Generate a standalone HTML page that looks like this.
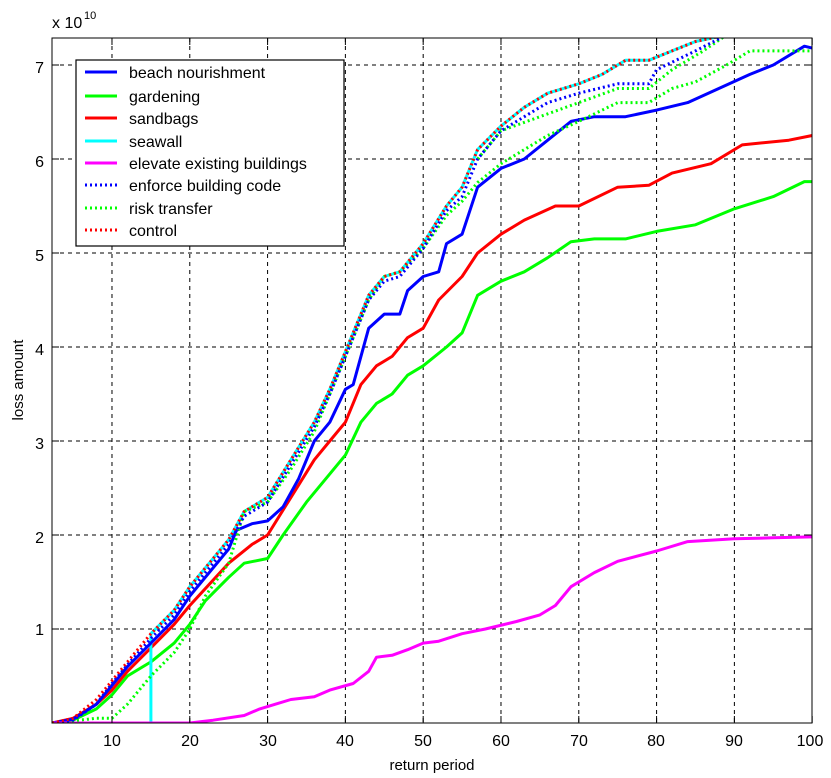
<!DOCTYPE html>
<html><head><meta charset="utf-8"><style>
body{margin:0;background:#fff}
svg{display:block;font-family:"Liberation Sans",sans-serif}
</style></head><body>
<svg id="s" width="831" height="778" viewBox="0 0 831 778">
<defs><clipPath id="c"><rect x="52" y="38" width="760" height="685"/></clipPath></defs>
<rect width="831" height="778" fill="#fff"/>
<g id="grid" stroke="#000" stroke-width="1" stroke-dasharray="4,4"></g>
<g id="series" clip-path="url(#c)" fill="none" stroke-linejoin="round"></g>
<rect x="52" y="38" width="760" height="685" fill="none" stroke="#000" stroke-width="1"/>
<g id="ticks" stroke="#000"></g>
<g font-size="16" fill="#000">
<text x="112" y="746" text-anchor="middle">10</text>
<text x="190" y="746" text-anchor="middle">20</text>
<text x="268" y="746" text-anchor="middle">30</text>
<text x="345" y="746" text-anchor="middle">40</text>
<text x="423" y="746" text-anchor="middle">50</text>
<text x="501" y="746" text-anchor="middle">60</text>
<text x="579" y="746" text-anchor="middle">70</text>
<text x="656" y="746" text-anchor="middle">80</text>
<text x="734" y="746" text-anchor="middle">90</text>
<text x="810" y="746" text-anchor="middle">100</text>
<text x="44" y="635" text-anchor="end">1</text>
<text x="44" y="543" text-anchor="end">2</text>
<text x="44" y="449" text-anchor="end">3</text>
<text x="44" y="355" text-anchor="end">4</text>
<text x="44" y="261" text-anchor="end">5</text>
<text x="44" y="167" text-anchor="end">6</text>
<text x="44" y="73" text-anchor="end">7</text>
<text x="52" y="28">x 10</text><text x="84" y="19" font-size="11">10</text>
<text x="432" y="770" text-anchor="middle" font-size="15">return period</text>
<text transform="translate(23,380) rotate(-90)" text-anchor="middle" font-size="15">loss amount</text>
</g>
<rect x="76" y="60" width="268" height="186" fill="#fff" stroke="#000" stroke-width="1.2"/>
<g id="leg" font-size="16" fill="#000"></g>
</svg>
<script>
var X=function(x){return 52+(x-2.29)*7.78},Y=function(y){return 723-y*94};
var NS="http://www.w3.org/2000/svg";
function el(p,t,a){var e=document.createElementNS(NS,t);for(var k in a)e.setAttribute(k,a[k]);document.getElementById(p).appendChild(e);return e}
for(var i=10;i<=90;i+=10){el("grid","line",{x1:X(i),x2:X(i),y1:38,y2:723});}
for(var j=1;j<=7;j++){el("grid","line",{x1:52,x2:812,y1:Y(j),y2:Y(j)});}
for(var i=10;i<=100;i+=10){el("ticks","line",{x1:X(i),x2:X(i),y1:723,y2:716});el("ticks","line",{x1:X(i),x2:X(i),y1:38,y2:45});}
for(var j=1;j<=7;j++){el("ticks","line",{x1:52,x2:59,y1:Y(j),y2:Y(j)});el("ticks","line",{x1:812,x2:805,y1:Y(j),y2:Y(j)});}
var ctrl=[[2.3,0],[5,0.05],[8,0.25],[10,0.45],[12,0.65],[15,0.95],[18,1.2],[20,1.45],[25,1.95],[27,2.25],[30,2.4],[33,2.8],[36,3.2],[38,3.55],[40,3.95],[43,4.55],[45,4.75],[47,4.8],[50,5.1],[53,5.5],[55,5.7],[57,6.1],[60,6.35],[63,6.55],[66,6.7],[70,6.8],[73,6.9],[76,7.05],[79,7.05],[82,7.15],[85,7.25],[89,7.32]];
var sea=[[2.3,0],[15,0]].concat(ctrl.filter(function(p){return p[0]>=15}));
var D=[
 ["#0f0",3,"",[[2.3,0],[5,0.03],[8,0.15],[10,0.3],[12,0.5],[15,0.65],[18,0.85],[20,1.05],[22,1.3],[25,1.55],[27,1.7],[30,1.75],[32,2.0],[35,2.35],[38,2.65],[40,2.85],[42,3.2],[44,3.4],[46,3.5],[48,3.7],[50,3.8],[53,4.0],[55,4.15],[57,4.55],[60,4.7],[63,4.8],[66,4.95],[69,5.12],[72,5.15],[76,5.15],[80,5.23],[85,5.3],[90,5.47],[95,5.6],[99,5.76],[100,5.76]]],
 ["#f00",3,"",[[2.3,0],[5,0.05],[8,0.2],[10,0.35],[12,0.55],[15,0.8],[18,1.05],[20,1.25],[25,1.7],[28,1.9],[30,2.0],[33,2.4],[36,2.8],[38,3.0],[40,3.2],[42,3.6],[44,3.8],[46,3.9],[48,4.1],[50,4.2],[52,4.5],[55,4.75],[57,5.0],[60,5.2],[63,5.35],[67,5.5],[70,5.5],[75,5.7],[79,5.72],[82,5.85],[87,5.95],[91,6.15],[97,6.2],[100,6.25]]],
 ["#0ff",3,"",sea],
 ["#00f",3,"",[[2.3,0],[5,0.04],[8,0.2],[10,0.4],[12,0.6],[15,0.85],[18,1.1],[20,1.35],[22,1.55],[25,1.85],[26,2.05],[28,2.12],[30,2.15],[32,2.3],[34,2.6],[36,3.0],[38,3.2],[40,3.55],[41,3.6],[43,4.2],[45,4.35],[47,4.35],[48,4.6],[50,4.75],[52,4.8],[53,5.1],[55,5.2],[57,5.7],[60,5.9],[63,6.0],[66,6.2],[69,6.4],[72,6.45],[76,6.45],[80,6.52],[84,6.6],[88,6.75],[92,6.9],[95,7.0],[99,7.2],[100,7.18]]],
 ["#f0f",3,"",[[2.3,0],[20,0],[23,0.03],[27,0.08],[29,0.15],[31,0.2],[33,0.25],[36,0.28],[38,0.35],[41,0.42],[43,0.55],[44,0.7],[46,0.72],[48,0.78],[50,0.85],[52,0.87],[55,0.95],[58,1.0],[62,1.08],[65,1.15],[67,1.25],[69,1.45],[72,1.6],[75,1.72],[80,1.83],[84,1.93],[90,1.96],[95,1.97],[100,1.98]]],
 ["#0f0",3,"2,3",[[2.3,0],[8,0.05],[10,0.05],[12,0.2],[15,0.5],[18,0.75],[20,1.0],[22,1.35],[25,1.7],[27,2.25],[30,2.35],[33,2.7],[36,3.1],[40,3.9],[43,4.5],[45,4.75],[47,4.8],[50,5.05],[53,5.4],[55,5.55],[57,5.75],[60,5.95],[63,6.1],[66,6.25],[70,6.4],[75,6.6],[79,6.6],[82,6.75],[85,6.82],[89,7.0],[92,7.15],[95,7.15],[100,7.15]]],
 ["#0f0",3,"2,3",[[57,6.0],[60,6.3],[70,6.6],[75,6.75],[79,6.75],[82,6.95],[86,7.15],[89,7.32]]],
 ["#00f",3,"2,3",[[2.3,0],[5,0.03],[8,0.2],[10,0.42],[12,0.62],[15,0.9],[18,1.15],[20,1.4],[25,1.9],[27,2.2],[30,2.35],[33,2.75],[36,3.15],[38,3.5],[40,3.9],[43,4.5],[45,4.7],[47,4.75],[50,5.05],[53,5.45],[55,5.6],[57,6.0],[60,6.3],[63,6.45],[66,6.6],[70,6.7],[75,6.8],[79,6.8],[80,6.95],[85,7.15],[89,7.32]]],
 ["#f00",3,"2,3",ctrl]
];
D.forEach(function(s){var d=s[3].map(function(p,i){return (i?"L":"M")+X(p[0]).toFixed(1)+","+Y(p[1]).toFixed(1)}).join("");
 var a={d:d,stroke:s[0],"stroke-width":s[1]};if(s[2])a["stroke-dasharray"]=s[2];el("series","path",a);});
var L=[["#00f","","beach nourishment"],["#0f0","","gardening"],["#f00","","sandbags"],["#0ff","","seawall"],["#f0f","","elevate existing buildings"],["#00f","2,3","enforce building code"],["#0f0","2,3","risk transfer"],["#f00","2,3","control"]];
var ys=[72,96,118,141,163,185,208,230];
L.forEach(function(l,i){var a={x1:85,x2:117,y1:ys[i],y2:ys[i],stroke:l[0],"stroke-width":3};if(l[1])a["stroke-dasharray"]=l[1];el("leg","line",a);
 var t=el("leg","text",{x:129,y:ys[i]+6});t.textContent=l[2];});
</script>
</body></html>
